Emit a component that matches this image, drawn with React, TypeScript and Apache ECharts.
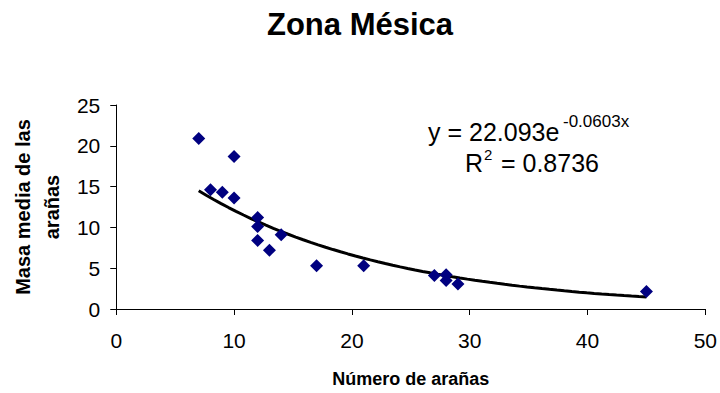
import React, { useEffect, useRef } from "react";
import * as echarts from "echarts";

// Number of spiders per sample and mean spider mass
const numArañas = [7, 8, 9, 10, 10, 12, 12, 12, 13, 14, 17, 21, 27, 28, 28, 29, 45];
const masaMedia = [20.9, 14.6, 14.3, 18.7, 13.6, 11.2, 10.1, 8.4, 7.2, 9.1, 5.3, 5.3, 4.1, 4.2, 3.5, 3.05, 2.15];

// Exponential trendline y = a·e^(b·x) and its fit
const trendA = 22.093;
const trendB = -0.0603;
const trendR2 = 0.8736;

const xTicks = [0, 10, 20, 30, 40, 50];
const yTicks = [0, 5, 10, 15, 20, 25];

const FONT = "'Liberation Sans', Arial, sans-serif";

export default function App() {
  const ref = useRef<HTMLDivElement>(null);

  useEffect(() => {
    if (!ref.current) return;
    const chart = echarts.init(ref.current, undefined, { renderer: "svg" });

    const points = numArañas.map((x, i) => [x, masaMedia[i]]);
    const xMin = Math.min(...numArañas);
    const xMax = Math.max(...numArañas);
    const trend: number[][] = [];
    const steps = 60;
    for (let i = 0; i <= steps; i++) {
      const x = xMin + ((xMax - xMin) * i) / steps;
      trend.push([x, trendA * Math.exp(trendB * x)]);
    }

    const eqText = (x: number, y: number, text: string, size: number) => ({
      type: "text",
      x,
      y,
      silent: true,
      style: {
        text,
        fontFamily: FONT,
        fontSize: size,
        fill: "#000",
        textAlign: "left",
        textVerticalAlign: "middle",
        verticalAlign: "middle",
      },
    });

    chart.setOption({
      animation: false,
      backgroundColor: "#ffffff",
      textStyle: { fontFamily: FONT },
      title: {
        text: "Zona Mésica",
        left: "center",
        top: 9,
        padding: 0,
        textStyle: { fontFamily: FONT, fontSize: 31, fontWeight: "bold", color: "#000" },
      },
      grid: { left: 116, right: 14, top: 105, bottom: 83 },
      xAxis: {
        type: "value",
        min: xTicks[0],
        max: xTicks[xTicks.length - 1],
        interval: 10,
        name: "Número de arañas",
        nameLocation: "middle",
        nameGap: 61,
        nameTextStyle: { fontFamily: FONT, fontSize: 18, fontWeight: "bold", color: "#000" },
        axisLine: { lineStyle: { color: "#000", width: 1 } },
        axisTick: { show: true, length: 6, lineStyle: { color: "#000" } },
        axisLabel: { fontFamily: FONT, fontSize: 21, color: "#000", margin: 21 },
        splitLine: { show: false },
      },
      yAxis: {
        type: "value",
        min: yTicks[0],
        max: yTicks[yTicks.length - 1],
        interval: 5,
        name: "Masa media de las\narañas",
        nameLocation: "middle",
        nameGap: 50,
        nameTextStyle: { fontFamily: FONT, fontSize: 20, fontWeight: "bold", color: "#000", lineHeight: 29 },
        axisLine: { show: true, lineStyle: { color: "#000", width: 1 } },
        axisTick: { show: true, length: 6, lineStyle: { color: "#000" } },
        axisLabel: { fontFamily: FONT, fontSize: 21, color: "#000", margin: 16 },
        splitLine: { show: false },
      },
      series: [
        {
          type: "line",
          data: trend,
          showSymbol: false,
          smooth: false,
          lineStyle: { color: "#000", width: 3 },
          z: 1,
        },
        {
          type: "scatter",
          data: points,
          symbol: "diamond",
          symbolSize: 13,
          itemStyle: { color: "#000080", opacity: 1 },
          z: 2,
        },
      ],
      graphic: [
        eqText(428, 132, "y = " + trendA.toFixed(3) + "e", 25),
        eqText(563, 121, trendB.toFixed(4) + "x", 17),
        eqText(465, 163, "R", 25),
        eqText(484, 154, "2", 15),
        eqText(494, 163, " = " + trendR2.toFixed(4), 25),
      ],
    });

    return () => chart.dispose();
  }, []);

  return (
    <div
      ref={ref}
      style={{ position: "fixed", left: 0, top: 0, width: 720, height: 393 }}
    />
  );
}
